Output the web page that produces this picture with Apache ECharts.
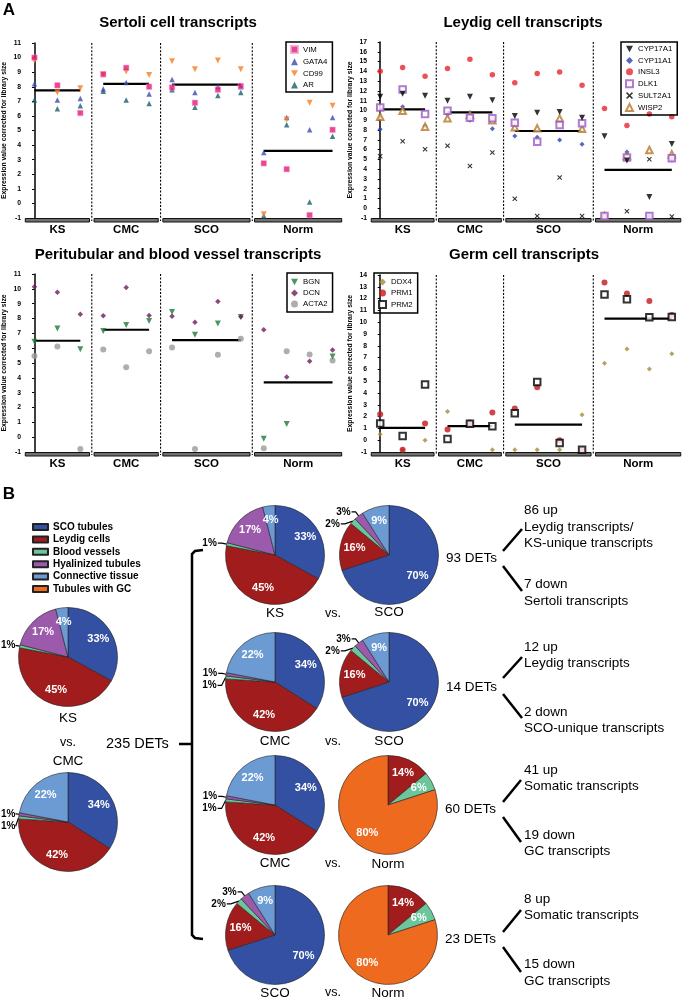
<!DOCTYPE html>
<html><head><meta charset="utf-8">
<script src="https://cdn.jsdelivr.net/npm/echarts@6/dist/echarts.min.js"></script>
<style>html,body{margin:0;padding:0;background:#fff}#c{width:683px;height:1000px}</style>
</head><body><div id="c"></div>
<script>
// ---------- DATA ----------
const groups = ['KS', 'CMC', 'SCO', 'Norm'];
const groupStart = [0, 3, 6, 10];
const groupEnd = [2, 5, 9, 13];

// Sertoli cell transcripts (14 samples: KS x3, CMC x3, SCO x4, Norm x4)
const VIM   = [10.0, 8.1, 6.2, 8.85, 9.3, 8.0, 7.95, 6.9, 7.8, 8.05, 2.75, 2.35, -0.8, 5.05];
const GATA4 = [8.2, 7.1, 7.2, 7.85, 8.3, 7.5, 8.5, 7.6, 8.0, 8.0, 3.5, 5.9, 5.05, 5.9];
const CD99  = [9.8, 7.6, 7.9, 8.85, 9.05, 8.8, 9.75, 9.2, 9.8, 9.2, -0.75, 5.75, 6.9, 6.7];
const AR    = [7.1, 6.5, 6.7, 7.7, 7.1, 6.85, 7.8, 6.6, 7.4, 7.6, -0.85, 5.4, 0.1, 4.6];
const sertoliMean = [7.75, 8.2, 8.15, 3.6];

// Leydig cell transcripts
const CYP17A1 = [11.4, 11.7, 11.5, 11.0, 11.4, 11.05, 9.43, 9.77, 9.83, 9.26, 7.35, 4.87, 1.14, 6.57];
const CYP11A1 = [8.07, 10.38, 8.4, 9.6, 9.0, 8.13, 7.39, 7.25, 6.98, 6.54, -0.8, 5.76, -0.8, 4.94];
const INSL3   = [14.0, 14.4, 13.5, 14.3, 15.23, 13.64, 12.82, 13.77, 13.94, 12.58, 10.2, 8.47, 9.63, 9.36];
const DLK1    = [10.3, 12.14, 9.63, 9.97, 9.25, 9.2, 8.75, 6.81, 8.5, 8.68, -0.8, 5.2, -0.8, 5.1];
const SULT2A1 = [5.32, 6.84, 6.03, 6.4, 4.33, 5.69, 0.97, -0.8, 3.14, -0.8, -0.85, -0.32, 5.0, -0.85];
const WISP2   = [9.36, 9.97, 8.34, 9.2, 9.53, 9.0, 8.27, 8.17, 9.19, 8.13, -0.8, 5.35, 5.96, 5.52];
const leydigMean = [10.1, 9.8, 7.9, 3.92];

// Peritubular and blood vessel transcripts
const BGN   = [6.43, 7.33, 5.93, 7.15, 7.56, 7.83, 8.44, 6.9, 7.67, 8.1, -0.1, 0.88, null, 5.44];
const DCN   = [10.14, 9.77, 8.28, 8.19, 10.09, 8.2, 8.15, 7.74, 9.14, 8.12, 7.24, 4.06, 5.12, 5.87];
const ACTA2 = [5.48, 6.11, -0.8, 5.91, 4.71, 5.8, 6.05, -0.8, 5.55, 6.63, -0.75, 5.8, 5.57, 5.17];
const periMean = [6.5, 7.24, 6.54, 3.7];

// Germ cell transcripts
const DDX4 = [0.5, -0.8, -0.01, 2.43, 1.45, -0.8, -0.8, -0.8, -0.8, 2.15, 6.52, 7.72, 6.04, 7.32];
const PRM1 = [2.2, -0.8, 1.41, 0.9, 1.5, 2.35, 2.69, 4.48, -0.01, -0.8, 13.37, 12.43, 11.8, 10.6];
const PRM2 = [1.41, 0.36, 4.73, 0.1, 1.4, 1.18, 2.29, 4.93, -0.24, -0.8, 12.35, 11.95, 10.41, 10.44];
const germMean = [1.04, 1.2, 1.32, 10.3];

// Pie charts (percent of DETs by compartment)
const pieNames = ['SCO tubules', 'Leydig cells', 'Blood vessels', 'Hyalinized tubules', 'Connective tissue', 'Tubules with GC'];
const pieKS   = [33, 45, 1, 17, 4, 0];
const pieCMC  = [34, 42, 1, 1, 22, 0];
const pieSCO  = [70, 16, 2, 3, 9, 0];
const pieNorm = [0, 14, 6, 0, 0, 80];

// ---------- STYLE ----------
const FF = '"Liberation Sans", Arial, Helvetica, sans-serif';
const pieColors = ['#3450a2', '#a11d1d', '#6cc59b', '#9b5aab', '#6b9bd2', '#ee6a1f'];
const DOWN = 'path://M0,0L10,0L5,9Z';
const CROSS = 'path://M0,1.5L1.5,0L5,3.5L8.5,0L10,1.5L6.5,5L10,8.5L8.5,10L5,6.5L1.5,10L0,8.5L3.5,5Z';

const grids = [
  {left: 22, top: 43, width: 322, height: 175},
  {left: 369, top: 42, width: 322, height: 176},
  {left: 22, top: 274, width: 322, height: 178},
  {left: 369, top: 275, width: 322, height: 177}
];
const yRanges = [[-1, 11], [-1, 17], [-1, 11], [-1, 14]];

function yAx(gi) {
  return {
    type: 'value', gridIndex: gi, min: yRanges[gi][0], max: yRanges[gi][1], interval: 1,
    name: 'Expression value corrected for library size', nameLocation: 'middle', nameGap: 15,
    nameTextStyle: {fontSize: 6.8, fontWeight: 'bold', fontFamily: FF, color: '#000'},
    axisLine: {show: true, lineStyle: {color: '#000', width: 1.5}},
    axisTick: {show: true, length: 2.5, lineStyle: {color: '#000', width: 1}},
    axisLabel: {fontSize: 6.8, fontWeight: 'bold', color: '#000', margin: 2, fontFamily: FF},
    splitLine: {show: false}
  };
}
function xAx(gi) {
  return {type: 'value', gridIndex: gi, min: -0.5, max: 13.5, show: false};
}

function sc(name, arr, gi, symbol, color, size, extra) {
  const data = [];
  arr.forEach((v, i) => { if (v !== null) data.push([i, v]); });
  return Object.assign({
    type: 'scatter', name, data, xAxisIndex: gi, yAxisIndex: gi,
    symbol, symbolSize: size, itemStyle: {color}, silent: true, z: 3
  }, extra || {});
}

function groupSeries(gi, means) {
  const ymin = yRanges[gi][0], ymax = yRanges[gi][1];
  return {
    type: 'custom', xAxisIndex: gi, yAxisIndex: gi, silent: true, z: 2, clip: false,
    data: groups.map((g, k) => [k]),
    renderItem(params, api) {
      const k = api.value(0);
      const s = groupStart[k], e = groupEnd[k], m = means[k];
      const a = api.coord([s, m]), b = api.coord([e, m]);
      const bl = api.coord([s - 0.4, ymin]), br = api.coord([e + 0.4, ymin]);
      const children = [
        {type: 'line', shape: {x1: a[0], y1: a[1], x2: b[0], y2: b[1]}, style: {stroke: '#000', lineWidth: 2.2}},
        {type: 'rect', shape: {x: bl[0], y: bl[1] + 0.5, width: br[0] - bl[0], height: 3.5}, style: {fill: '#707070', stroke: '#111', lineWidth: 1}},
        {type: 'text', x: (bl[0] + br[0]) / 2, y: bl[1] + 12,
          style: {text: groups[k], font: 'bold 11.5px ' + FF, fill: '#000', align: 'center', verticalAlign: 'middle', textAlign: 'center', textVerticalAlign: 'middle'}}
      ];
      if (k < 3) {
        const t = api.coord([e + 0.5, ymax]), u = api.coord([e + 0.5, ymin]);
        children.push({type: 'line', shape: {x1: t[0], y1: t[1], x2: u[0], y2: u[1] + 3}, style: {stroke: '#000', lineWidth: 1.1, lineDash: [2, 1.6]}});
      }
      return {type: 'group', children};
    }
  };
}

function legendBox(names, left, top, gap, pad) {
  return {
    data: names, left, top, orient: 'vertical', itemWidth: 7, itemHeight: 7, itemGap: gap,
    padding: pad, borderColor: '#000', borderWidth: 1.5, selectedMode: false,
    textStyle: {fontSize: 7.8, fontFamily: FF, color: '#000', lineHeight: 7}
  };
}

const R = 49.5;
function pieMain(vals, cx, cy, tight) {
  const data = [];
  pieNames.forEach((n, i) => {
    if (vals[i] > 0) data.push({name: n, value: vals[i], itemStyle: {color: pieColors[i]}, label: {show: vals[i] < 4}, labelLine: {show: vals[i] < 4}});
  });
  const label = {position: 'outside', formatter: '{c}%', fontSize: 10, fontWeight: 'bold', color: '#000', fontFamily: FF, distanceToLabelLine: 1, overflow: 'none'};
  if (tight) Object.assign(label, {alignTo: 'edge', edgeDistance: 1, distanceToLabelLine: 0});
  return {
    type: 'pie', center: [cx, cy], radius: R, startAngle: 90, clockwise: true, data, silent: true,
    avoidLabelOverlap: true,
    itemStyle: {borderColor: '#222', borderWidth: 0.6},
    label,
    labelLine: {length: tight ? 3 : 5, length2: tight ? 1 : 4, lineStyle: {color: '#000', width: 1.2}},
    emphasis: {disabled: true}
  };
}
function pieLab(vals, cx, cy) {
  const data = [];
  pieNames.forEach((n, i) => {
    if (vals[i] > 0) data.push({name: n, value: vals[i], label: {show: vals[i] >= 4}});
  });
  return {
    type: 'pie', center: [cx, cy], radius: R * 1.3, startAngle: 90, clockwise: true, data, silent: true,
    itemStyle: {color: 'rgba(0,0,0,0)', borderWidth: 0},
    label: {position: 'inside', formatter: '{c}%', fontSize: 11, fontWeight: 'bold', color: '#fff', fontFamily: FF},
    labelLine: {show: false}, emphasis: {disabled: true}, z: 4
  };
}

const pies = [
  [pieKS, 68, 657, true], [pieCMC, 68, 822, true],
  [pieKS, 275, 555], [pieSCO, 389, 555],
  [pieCMC, 275, 682], [pieSCO, 389, 682],
  [pieCMC, 275, 805], [pieNorm, 388, 805],
  [pieSCO, 275, 935], [pieNorm, 388, 935]
];

// ---------- GRAPHIC TEXT ----------
function T(text, x, y, size, bold, align) {
  align = align || 'center';
  return {type: 'text', x, y, silent: true,
    style: {text, font: (bold ? 'bold ' : '') + size + 'px ' + FF, fill: '#000', align, verticalAlign: 'middle', textAlign: align, textVerticalAlign: 'middle'}};
}
function L(x1, y1, x2, y2, w) {
  return {type: 'line', silent: true, shape: {x1, y1, x2, y2}, style: {stroke: '#000', lineWidth: w || 2.5}};
}

const graphics = [
  T('A', 9, 10, 17, true), T('B', 9, 494, 17, true),
  T('Sertoli cell transcripts', 178, 23, 15, true),
  T('Leydig cell transcripts', 523, 23, 15, true),
  T('Peritubular and blood vessel transcripts', 178, 255, 15, true),
  T('Germ cell transcripts', 524, 255, 15, true),
  // left column pie captions
  T('KS', 68, 718, 13.5, false), T('vs.', 68, 743, 12.5, false), T('CMC', 68, 761, 13.5, false),
  // middle column captions
  T('KS', 275, 613, 13.5, false), T('vs.', 333, 614, 12.5, false), T('SCO', 389, 612, 13.5, false),
  T('CMC', 275, 741, 13.5, false), T('vs.', 333, 742, 12.5, false), T('SCO', 389, 741, 13.5, false),
  T('CMC', 275, 863, 13.5, false), T('vs.', 333, 864, 12.5, false), T('Norm', 388, 864, 13.5, false),
  T('SCO', 275, 993, 13.5, false), T('vs.', 333, 993, 12.5, false), T('Norm', 388, 993, 13.5, false),
  // bracket
  {type: 'polyline', silent: true, shape: {points: [[203, 550], [195, 551], [192, 554], [192, 935], [195, 938], [203, 939]]}, style: {stroke: '#000', lineWidth: 2.5, fill: null}},
  L(179, 744, 192, 744, 2.5),
  T('235 DETs', 106, 744, 14.5, false, 'left'),
  // row 1
  T('93 DETs', 446, 558, 13.5, false, 'left'),
  L(503, 551, 522, 529), L(503, 566, 522, 591),
  T('86 up', 524, 510, 13.5, false, 'left'), T('Leydig transcripts/', 524, 527, 13.5, false, 'left'),
  T('KS-unique transcripts', 524, 543, 13.5, false, 'left'),
  T('7 down', 524, 584, 13.5, false, 'left'), T('Sertoli transcripts', 524, 601, 13.5, false, 'left'),
  // row 2
  T('14 DETs', 446, 687, 13.5, false, 'left'),
  L(503, 678, 522, 657), L(503, 694, 522, 718),
  T('12 up', 524, 647, 13.5, false, 'left'), T('Leydig transcripts', 524, 663, 13.5, false, 'left'),
  T('2 down', 524, 712, 13.5, false, 'left'), T('SCO-unique transcripts', 524, 728, 13.5, false, 'left'),
  // row 3
  T('60 DETs', 445, 809, 13.5, false, 'left'),
  L(503, 802, 521, 780), L(503, 817, 521, 842),
  T('41 up', 524, 770, 13.5, false, 'left'), T('Somatic transcripts', 524, 786, 13.5, false, 'left'),
  T('19 down', 524, 835, 13.5, false, 'left'), T('GC transcripts', 524, 851, 13.5, false, 'left'),
  // row 4
  T('23 DETs', 445, 939, 13.5, false, 'left'),
  L(503, 932, 521, 910), L(503, 947, 521, 972),
  T('8 up', 524, 899, 13.5, false, 'left'), T('Somatic transcripts', 524, 915, 13.5, false, 'left'),
  T('15 down', 524, 964, 13.5, false, 'left'), T('GC transcripts', 524, 981, 13.5, false, 'left')
];

const series = [
  // Sertoli
  sc('AR', AR, 0, 'triangle', '#1d5e6e', 5.5),
  sc('GATA4', GATA4, 0, 'triangle', '#3b4cb0', 5.5),
  sc('CD99', CD99, 0, DOWN, '#f58025', 6),
  sc('VIM', VIM, 0, 'rect', '#e6187a', 5.5, {itemStyle: {color: '#e6187a', borderColor: '#f6a0c8', borderWidth: 0.6}}),
  groupSeries(0, sertoliMean),
  // Leydig
  sc('SULT2A1', SULT2A1, 1, CROSS, '#000', 5),
  sc('CYP11A1', CYP11A1, 1, 'diamond', '#2b3fb5', 5),
  sc('WISP2', WISP2, 1, 'emptyTriangle', '#b5782b', 6.5, {itemStyle: {color: '#b5782b', borderWidth: 1}}),
  sc('DLK1', DLK1, 1, 'emptyRect', '#9b59c3', 6.5, {itemStyle: {color: '#9b59c3', borderWidth: 1.2}}),
  sc('CYP17A1', CYP17A1, 1, DOWN, '#000', 6),
  sc('INSL3', INSL3, 1, 'circle', '#e8262a', 5.5),
  groupSeries(1, leydigMean),
  // Peritubular
  sc('ACTA2', ACTA2, 2, 'circle', '#9a9a9a', 6),
  sc('BGN', BGN, 2, DOWN, '#1d7a3b', 6),
  sc('DCN', DCN, 2, 'diamond', '#6e1c5e', 5.5),
  groupSeries(2, periMean),
  // Germ
  sc('DDX4', DDX4, 3, 'diamond', '#a38b3c', 5),
  sc('PRM1', PRM1, 3, 'circle', '#c4161c', 6),
  sc('PRM2', PRM2, 3, 'emptyRect', '#000', 6.5, {itemStyle: {color: '#000', borderWidth: 1.1}}),
  groupSeries(3, germMean)
];
pies.forEach(p => series.push(pieMain(p[0], p[1], p[2], p[3])));
pies.forEach(p => series.push(pieLab(p[0], p[1], p[2])));

const option = {
  animation: false,
  backgroundColor: '#fff',
  textStyle: {fontFamily: FF},
  grid: grids,
  xAxis: [0, 1, 2, 3].map(xAx),
  yAxis: [0, 1, 2, 3].map(yAx),
  legend: [
    legendBox(['VIM', 'GATA4', 'CD99', 'AR'], 286, 42, 3.7, [3, 5, 3, 4]),
    legendBox(['CYP17A1', 'CYP11A1', 'INSL3', 'DLK1', 'SULT2A1', 'WISP2'], 621, 42, 3.4, [3, 5, 3, 4]),
    legendBox(['BGN', 'DCN', 'ACTA2'], 287, 273, 3, [5, 5, 4, 4]),
    legendBox(['DDX4', 'PRM1', 'PRM2'], 374, 273, 3, [5, 5, 4, 4]),
    {data: pieNames, left: 32, top: 522, orient: 'vertical', icon: 'rect', itemWidth: 15, itemHeight: 6,
      itemGap: 2.4, padding: 0, selectedMode: false,
      textStyle: {fontSize: 10, fontWeight: 'bold', fontFamily: FF, color: '#000', lineHeight: 10}}
  ],
  graphic: {elements: graphics},
  series
};
const chart = echarts.init(document.getElementById('c'), null, {renderer: 'canvas'});
chart.setOption(option);
</script>
</body></html>
